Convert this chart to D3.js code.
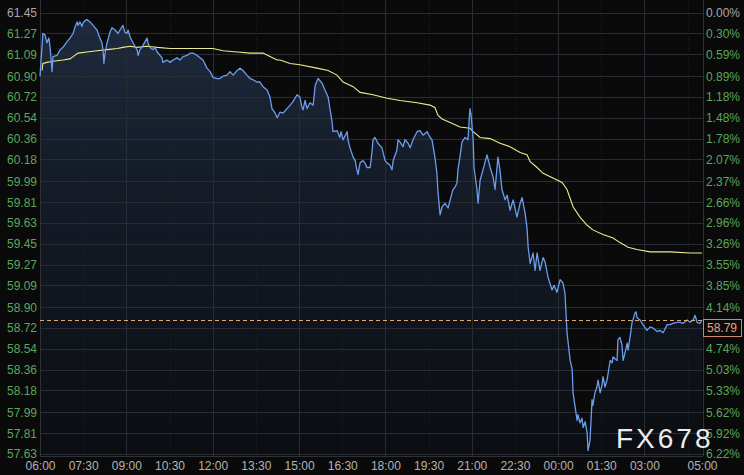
<!DOCTYPE html>
<html><head><meta charset="utf-8">
<script src="https://cdn.jsdelivr.net/npm/d3@7"></script>
<style>
html,body{margin:0;padding:0;background:#0b0b0b;}
svg{display:block;}
</style></head>
<body>
<svg id="chart" width="744" height="475"></svg>
<script>
// ---- data ----
const xTickHours = [0,1.5,3,4.5,6,7.5,9,10.5,12,13.5,15,16.5,18,19.5,21,23];
const xTickLabels = ["06:00","07:30","09:00","10:30","12:00","13:30","15:00","16:30","18:00","19:30","21:00","22:30","00:00","01:30","03:00","05:00"];
const gridHours = [3,6,9,12,15,18,21];
const minorGridHours = [1.5,4.5,7.5,10.5,13.5,16.5,19.5,22.5];
const priceTicks = [61.45,61.27,61.09,60.90,60.72,60.54,60.36,60.18,59.99,59.81,59.63,59.45,59.27,59.09,58.90,58.72,58.54,58.36,58.18,57.99,57.81,57.63];
const pctTicks = ["0.00%","0.30%","0.59%","0.89%","1.18%","1.48%","1.78%","2.07%","2.37%","2.66%","2.96%","3.26%","3.55%","3.85%","4.14%","4.44%","4.74%","5.03%","5.33%","5.62%","5.92%","6.22%"];
const lastPrice = 58.79;

// price series: hours after 06:00, price
const priceT = [0.00,0.10,0.17,0.24,0.31,0.35,0.42,0.45,0.59,0.70,0.80,0.94,1.04,1.15,1.22,1.29,1.32,1.39,1.46,1.49,1.56,1.63,1.74,1.84,1.98,2.08,2.15,2.19,2.22,2.26,2.33,2.43,2.50,2.61,2.71,2.78,2.88,2.95,3.02,3.06,3.13,3.23,3.37,3.41,3.47,3.54,3.65,3.72,3.75,3.82,3.93,4.00,4.07,4.17,4.24,4.27,4.41,4.52,4.62,4.76,4.86,4.97,5.11,5.21,5.32,5.46,5.56,5.66,5.80,5.91,6.01,6.15,6.25,6.36,6.50,6.60,6.71,6.85,6.95,7.05,7.19,7.30,7.40,7.54,7.64,7.75,7.89,7.99,8.06,8.17,8.24,8.34,8.44,8.58,8.69,8.79,8.93,9.03,9.10,9.14,9.21,9.28,9.38,9.49,9.56,9.66,9.80,9.90,10.01,10.08,10.15,10.18,10.32,10.42,10.46,10.53,10.67,10.70,10.77,10.88,10.95,11.01,11.05,11.12,11.22,11.29,11.36,11.47,11.54,11.57,11.64,11.74,11.88,11.99,12.06,12.16,12.23,12.27,12.40,12.44,12.51,12.61,12.68,12.79,12.86,12.96,13.10,13.20,13.31,13.45,13.55,13.62,13.66,13.72,13.79,13.83,13.90,13.97,14.07,14.18,14.25,14.35,14.42,14.49,14.52,14.59,14.66,14.77,14.87,14.91,14.94,14.98,15.05,15.08,15.18,15.22,15.29,15.39,15.53,15.64,15.74,15.81,15.91,15.98,16.05,16.16,16.23,16.33,16.44,16.57,16.68,16.75,16.85,16.92,16.96,17.03,17.13,17.20,17.27,17.37,17.48,17.55,17.65,17.79,17.86,17.96,18.07,18.17,18.24,18.31,18.42,18.49,18.52,18.59,18.66,18.69,18.76,18.83,18.87,18.94,19.01,19.04,19.11,19.18,19.21,19.28,19.35,19.39,19.46,19.53,19.56,19.63,19.70,19.74,19.81,19.88,19.91,20.05,20.08,20.15,20.22,20.26,20.33,20.40,20.43,20.50,20.57,20.60,20.67,20.71,20.74,20.85,20.95,21.09,21.20,21.30,21.44,21.54,21.65,21.79,21.89,21.99,22.13,22.24,22.34,22.48,22.59,22.69,22.76,22.83,22.93,23.00];
const priceV = [60.90,61.27,61.26,61.19,61.23,61.15,60.94,61.07,61.08,61.13,61.15,61.20,61.23,61.27,61.33,61.37,61.34,61.37,61.33,61.36,61.38,61.39,61.37,61.34,61.30,61.23,61.19,61.13,61.01,61.10,61.19,61.28,61.32,61.30,61.27,61.30,61.34,61.28,61.27,61.30,61.24,61.19,61.13,61.08,61.13,61.15,61.20,61.23,61.19,61.15,61.13,61.15,61.11,61.08,61.06,61.02,61.04,61.02,61.04,61.06,61.04,61.07,61.08,61.10,61.10,61.08,61.06,61.04,60.97,60.94,60.89,60.88,60.88,60.90,60.91,60.94,60.91,60.95,60.97,60.95,60.91,60.88,60.87,60.85,60.85,60.81,60.78,60.72,60.62,60.58,60.54,60.59,60.58,60.62,60.65,60.68,60.74,60.72,60.63,60.61,60.69,60.62,60.67,60.65,60.82,60.88,60.84,60.78,60.72,60.61,60.50,60.42,60.43,60.37,60.42,60.35,60.42,60.35,60.28,60.20,60.17,60.09,60.05,60.15,60.17,60.15,60.11,60.11,60.26,60.35,60.37,60.32,60.28,60.17,60.15,60.13,60.09,60.17,60.26,60.35,60.33,60.29,60.35,60.32,60.28,60.35,60.42,60.43,60.39,60.42,60.37,60.35,60.29,60.20,60.06,59.89,59.70,59.77,59.80,59.76,59.83,59.92,59.94,59.98,60.09,60.20,60.33,60.37,60.35,60.52,60.62,60.56,60.35,60.11,59.92,59.80,60.00,60.09,60.22,60.11,60.03,59.92,60.20,60.09,59.92,59.83,59.87,59.74,59.83,59.68,59.80,59.85,59.72,59.59,59.42,59.28,59.37,59.22,59.37,59.22,59.33,59.29,59.16,59.05,59.09,59.03,59.14,59.11,59.02,58.68,58.44,58.36,58.16,58.04,57.92,57.97,57.90,57.94,57.86,57.91,57.81,57.66,57.75,58.10,58.05,58.16,58.21,58.27,58.16,58.23,58.30,58.21,58.27,58.33,58.44,58.42,58.47,58.44,58.62,58.64,58.57,58.44,58.51,58.59,58.53,58.64,58.77,58.79,58.85,58.86,58.81,58.79,58.75,58.70,58.73,58.72,58.69,58.70,58.68,58.75,58.75,58.76,58.77,58.77,58.76,58.79,58.77,58.79,58.83,58.77,58.76,58.79];

// average line
const avgT = [0.07,0.10,0.24,0.45,0.80,1.04,1.15,1.32,1.63,1.98,2.33,2.68,2.88,3.13,3.37,3.72,4.07,4.52,5.46,6.01,6.36,6.85,7.30,7.75,7.99,8.24,8.34,8.69,9.03,9.62,10.01,10.32,10.53,10.88,11.12,11.57,12.06,12.51,13.10,13.55,13.72,13.83,13.97,14.25,14.59,14.94,15.05,15.29,15.64,15.98,16.33,16.68,16.92,17.03,17.27,17.48,17.82,18.14,18.31,18.52,18.76,19.01,19.21,19.56,19.91,20.15,20.43,20.74,21.20,21.89,22.59,23.00];
const avgV = [60.95,61.01,61.02,61.03,61.04,61.05,61.07,61.10,61.11,61.12,61.13,61.14,61.15,61.16,61.15,61.16,61.15,61.14,61.14,61.14,61.12,61.11,61.10,61.10,61.07,61.04,61.04,61.01,61.00,60.97,60.95,60.91,60.85,60.81,60.76,60.74,60.71,60.69,60.67,60.65,60.63,60.56,60.53,60.50,60.46,60.45,60.42,60.37,60.36,60.32,60.29,60.24,60.22,60.16,60.11,60.06,60.02,59.98,59.92,59.77,59.68,59.61,59.57,59.53,59.50,59.46,59.42,59.40,59.38,59.38,59.37,59.37];

// ---- drawing ----
const W = 744, H = 475;
const plot = {left:40, right:703, top:0, bottom:456};
const svg = d3.select("#chart");
const font = "'Liberation Sans', Arial, sans-serif";

const x = d3.scaleLinear().domain([0,23]).range([40,702]);
const y = d3.scaleLinear().domain([57.63,61.45]).range([454,12.7]);

svg.append("rect").attr("width",W).attr("height",H).attr("fill","#0a0a0a");

const defs = svg.append("defs");
const grad = defs.append("linearGradient").attr("id","areaGrad")
  .attr("gradientUnits","userSpaceOnUse").attr("x1",0).attr("y1",0).attr("x2",0).attr("y2",plot.bottom);
grad.append("stop").attr("offset","0%").attr("stop-color","#1f2c40");
grad.append("stop").attr("offset","35%").attr("stop-color","#151d2a");
grad.append("stop").attr("offset","100%").attr("stop-color","#0b0d11");
defs.append("clipPath").attr("id","plotClip").append("rect")
  .attr("x",plot.left).attr("y",plot.top).attr("width",plot.right-plot.left).attr("height",plot.bottom-plot.top);

const series = priceT.map((t,i)=>({t, v:priceV[i]}));
const avg = avgT.map((t,i)=>({t, v:avgV[i]}));

// area
const area = d3.area().x(d=>x(d.t)).y0(plot.bottom).y1(d=>y(d.v));
svg.append("path").datum(series).attr("d",area).attr("fill","url(#areaGrad)").attr("clip-path","url(#plotClip)");

// grid
const grid = svg.append("g").attr("stroke-width",1).attr("shape-rendering","crispEdges");
grid.selectAll("line.m").data(minorGridHours).join("line").attr("class","m")
  .attr("y1",plot.top).attr("y2",plot.bottom).attr("x1",d=>Math.round(x(d))+0.5).attr("x2",d=>Math.round(x(d))+0.5)
  .attr("stroke","#1d2127").attr("stroke-dasharray","1,2");
grid.selectAll("line.h").data(priceTicks).join("line").attr("class","h")
  .attr("x1",plot.left).attr("x2",plot.right).attr("y1",d=>Math.round(y(d))+0.5).attr("y2",d=>Math.round(y(d))+0.5)
  .attr("stroke","#282d34");
grid.selectAll("line.v").data(gridHours).join("line").attr("class","v")
  .attr("y1",plot.top).attr("y2",plot.bottom).attr("x1",d=>Math.round(x(d))+0.5).attr("x2",d=>Math.round(x(d))+0.5)
  .attr("stroke","#282d34");
// borders
svg.append("line").attr("x1",plot.left+0.5).attr("x2",plot.left+0.5).attr("y1",0).attr("y2",plot.bottom).attr("stroke","#2e3236");
svg.append("line").attr("x1",plot.right+0.5).attr("x2",plot.right+0.5).attr("y1",0).attr("y2",plot.bottom).attr("stroke","#2e3236");
svg.append("line").attr("x1",plot.left).attr("x2",plot.right).attr("y1",plot.bottom+0.5).attr("y2",plot.bottom+0.5).attr("stroke","#2e3236");

// lines
const line = d3.line().x(d=>x(d.t)).y(d=>y(d.v));
svg.append("path").datum(avg).attr("d",line).attr("fill","none").attr("stroke","#ecec8c").attr("stroke-width",1.1);
svg.append("path").datum(series).attr("d",line).attr("fill","none").attr("stroke","#6c9cec").attr("stroke-width",1.3).attr("stroke-linejoin","round");

// last price dashed line
svg.append("line").attr("x1",plot.left).attr("x2",plot.right)
  .attr("y1",Math.round(y(lastPrice))+0.5).attr("y2",Math.round(y(lastPrice))+0.5)
  .attr("stroke","#e0aa6c").attr("stroke-dasharray","4,3").attr("stroke-width",1);

// axes
const leftAxis = svg.append("g").attr("transform",`translate(${plot.left},0)`)
  .call(d3.axisLeft(y).tickValues(priceTicks).tickFormat(d3.format(".2f")).tickSize(0).tickPadding(3));
leftAxis.select(".domain").remove();
leftAxis.selectAll("text").attr("font-family",font).attr("font-size",12)
  .attr("fill",(d,i)=> i===0 ? "#a8a8a8" : "#5aa65a");

const ly = Math.round(y(lastPrice));
const rightAxis = svg.append("g").attr("transform",`translate(${plot.right},0)`)
  .call(d3.axisRight(y).tickValues(priceTicks).tickFormat((d,i)=>pctTicks[i]).tickSize(0).tickPadding(3));
rightAxis.select(".domain").remove();
rightAxis.selectAll("text").attr("font-family",font).attr("font-size",12)
  .attr("fill",(d,i)=> i===0 ? "#a8a8a8" : "#5aa65a");
// the current-price label hides the tick label underneath it
rightAxis.selectAll(".tick").filter(d=>Math.abs(y(d)-(ly+8))<9).remove();

const bottomAxis = svg.append("g").attr("transform",`translate(0,${plot.bottom})`)
  .call(d3.axisBottom(x).tickValues(xTickHours).tickFormat((d,i)=>xTickLabels[i]).tickSize(0).tickPadding(5));
bottomAxis.select(".domain").remove();
bottomAxis.selectAll("text").attr("font-family",font).attr("font-size",12).attr("fill","#b4b4b4");

// last price label box
svg.append("rect").attr("x",703.5).attr("y",ly-0.5).attr("width",38).attr("height",17)
  .attr("fill","#0a0a0a").attr("stroke","#d08a6c").attr("stroke-width",1);
svg.append("text").attr("x",707).attr("y",ly+8).attr("dy","0.35em")
  .attr("font-family",font).attr("font-size",12).attr("fill","#f0a07c").text(d3.format(".2f")(lastPrice));

// watermark
svg.append("text").attr("x",616).attr("y",448).attr("font-family",font).attr("font-size",28)
  .attr("letter-spacing",3).attr("fill","#ececec").text("FX678");
</script>
</body></html>
